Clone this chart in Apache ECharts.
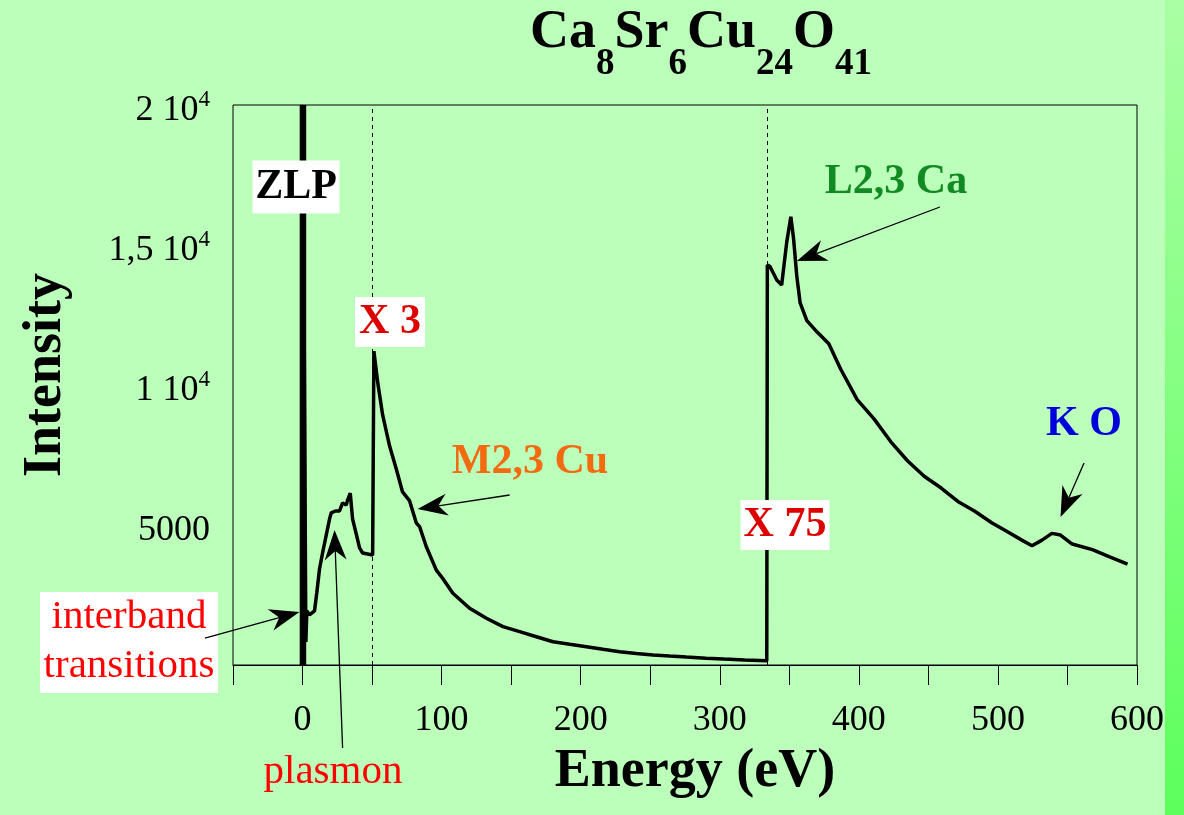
<!DOCTYPE html>
<html><head><meta charset="utf-8">
<script src="https://cdn.jsdelivr.net/npm/echarts@6/dist/echarts.min.js"></script>
<style>html,body{margin:0;padding:0;background:#bbffbb}#c{width:1184px;height:815px}</style>
</head><body><div id="c"></div>
<script>
// ---- data ----
const energy = [1.2, 2.4, 3.1, 5, 8.6, 10.3, 12.2, 14.4, 19.4, 20.6, 23.7, 26.6, 28.8, 31.4, 32.4, 34.3, 36, 38.6, 41, 43.2, 50.4,
  51.3, 54.2, 57.6, 62.6, 67.4, 71.9, 77, 81.8, 84.2, 89, 96.2, 100.7, 108.1, 120.1, 132.2, 144.1, 156.1, 168.1, 180.1, 192.1,
  204.1, 216, 228, 240, 252, 264, 276, 290, 303, 318, 333.8,
  334.2, 336.1, 341, 344.5, 348.2, 351.1, 353, 355.4, 357.8, 362.6, 370, 378.4, 386.8, 398.8, 410.9, 423, 435.1, 447.2, 459.2,
  471.2, 483.4, 495.5, 507.5, 517.2, 524.5, 531.7, 538.8, 545, 553.4, 567.9, 579.9, 593.2];
const intensity = [11700, 820, 1930, 1790, 1930, 2600, 3430, 4000, 5210, 5430, 5500, 5500, 5790, 5710, 5890, 6140, 5210, 4680, 4180, 4000, 3930,
  11210, 10040, 8930, 7820, 7000, 6180, 5860, 5070, 4940, 4225, 3390, 3100, 2560, 2025, 1670, 1370, 1190, 1010, 830, 740,
  655, 560, 475, 410, 360, 320, 285, 245, 210, 175, 150,
  14290, 14230, 13750, 13570, 15120, 16010, 15260, 13880, 12930, 12300, 11890, 11475, 10580, 9480, 8790, 7970, 7285, 6730, 6320,
  5840, 5490, 5080, 4740, 4460, 4260, 4460, 4700, 4640, 4320, 4120, 3870, 3600];
const zlpEnergy = [0.3, 0.3];
const zlpIntensity = [0, 20000];
const scaleChangeEnergies = [50.4, 333.8];
const yTickLabels = {0: '', 5000: '5000', 10000: '1 10{sup|4}', 15000: '1,5 10{sup|4}', 20000: '2 10{sup|4}'};
const xLabelValues = [0, 100, 200, 300, 400, 500, 600];
const xAxisTitle = 'Energy (eV)';
const yAxisTitle = 'Intensity';
// annotation arrows: [tailEnergy, tailIntensity, tipEnergy, tipIntensity]
const arrowInterband = [-70.2, 964, -2.2, 1893];
const arrowPlasmon = [28.8, -2964, 23, 4821];
const arrowM23Cu = [148.9, 6071, 82.7, 5571];
const arrowL23Ca = [458.3, 16357, 355.4, 14428];
const arrowKO = [561.9, 7214, 545, 5286];

const FONT = '"Liberation Serif", "DejaVu Serif", serif';
const chart = echarts.init(document.getElementById('c'));

const option = {
  backgroundColor: '#bbffbb',
  animation: false,
  grid: {left: 233, right: 47, top: 105, bottom: 150, containLabel: false, outerBoundsMode: 'none',
    show: true, borderColor: '#000', borderWidth: 1, backgroundColor: 'transparent'},
  xAxis: {
    type: 'value', min: -50, max: 600, interval: 50,
    axisLine: {show: true, onZero: false, lineStyle: {color: '#000', width: 1}},
    axisTick: {show: true, length: 20, lineStyle: {color: '#000', width: 1}},
    splitLine: {show: false},
    axisLabel: {
      margin: 38, fontFamily: FONT, fontSize: 36, color: '#000',
      formatter: v => xLabelValues.includes(v) ? String(v) : ''
    }
  },
  yAxis: {
    type: 'value', min: 0, max: 20000, interval: 5000,
    axisLine: {show: true, lineStyle: {color: '#000', width: 1}},
    axisTick: {show: false},
    splitLine: {show: false},
    axisLabel: {
      margin: 23, fontFamily: FONT, fontSize: 36, color: '#000', padding: [12, 0, 0, 0],
      formatter: v => yTickLabels[v] !== undefined ? yTickLabels[v] : '',
      rich: {sup: {fontFamily: FONT, fontSize: 23, color: '#000', verticalAlign: 'bottom', padding: [0, 0, 22, 0]}}
    }
  },
  series: [
    {
      type: 'line', name: 'spectrum', showSymbol: false, symbol: 'none', clip: true,
      lineStyle: {color: '#000', width: 3.5}, z: 3,
      data: energy.map((e, i) => [e, intensity[i]]),
      markLine: {
        silent: true, symbol: 'none', label: {show: false},
        lineStyle: {color: '#000', width: 1, type: [4, 4]},
        data: scaleChangeEnergies.map(e => ({xAxis: e}))
      }
    },
    {
      type: 'line', name: 'ZLP', showSymbol: false, symbol: 'none', clip: true,
      lineStyle: {color: '#000', width: 6.5}, z: 4,
      data: zlpEnergy.map((e, i) => [e, zlpIntensity[i]])
    }
  ]
};
chart.setOption(option);

function px(e, i) { return chart.convertToPixel({xAxisIndex: 0, yAxisIndex: 0}, [e, i]); }
function arrow(a) {
  const t = px(a[0], a[1]), h = px(a[2], a[3]);
  const dx = h[0] - t[0], dy = h[1] - t[1], len = Math.hypot(dx, dy);
  const ux = dx / len, uy = dy / len, nx = -uy, ny = ux;
  const L = 30, W = 11, N = 9;
  const notch = [h[0] - ux * (L - N), h[1] - uy * (L - N)];
  return [
    {type: 'line', z: 50, shape: {x1: t[0], y1: t[1], x2: notch[0], y2: notch[1]}, style: {stroke: '#000', lineWidth: 1.3}},
    {type: 'polygon', z: 50, shape: {points: [
      [h[0], h[1]],
      [h[0] - ux * L + nx * W, h[1] - uy * L + ny * W],
      notch,
      [h[0] - ux * L - nx * W, h[1] - uy * L - ny * W]
    ]}, style: {fill: '#000'}}
  ];
}
function boxText(text, cx, cy, w, h, color, size, weight) {
  const els = [];
  if (w) els.push({type: 'rect', z: 40, shape: {x: cx - w / 2, y: cy - h / 2, width: w, height: h}, style: {fill: '#fff'}});
  els.push({type: 'text', z: 41, style: {text: text, x: cx, y: cy, align: 'center', verticalAlign: 'middle',
    font: (weight || 'normal') + ' ' + size + 'px ' + FONT, fill: color, lineHeight: size * 1.2}});
  return els;
}

const g = [];
g.push({type: 'rect', z: -10, shape: {x: 1165, y: 0, width: 19, height: 815}, style: {fill: new echarts.graphic.LinearGradient(0, 0, 0, 1, [{offset: 0, color: '#aaffa4'}, {offset: 1, color: '#5cff5c'}])}});
// title
g.push({type: 'text', z: 41, style: {
  x: 530, y: 6, align: 'left', verticalAlign: 'top',
  text: '{m|Ca}{s|8}{m|Sr}{s|6}{m|Cu}{s|24}{m|O}{s|41}',
  rich: {
    m: {fontFamily: FONT, fontSize: 54, fontWeight: 'bold', fill: '#000', lineHeight: 54, verticalAlign: 'top'},
    s: {fontFamily: FONT, fontSize: 37, fontWeight: 'bold', fill: '#000', lineHeight: 37, verticalAlign: 'top', padding: [40, 0, 0, 0]}
  }
}});
// axis titles
g.push({type: 'text', z: 41, x: 695, y: 772, style: {text: xAxisTitle, x: 0, y: 0, align: 'center', verticalAlign: 'middle',
  font: 'bold 54px ' + FONT, fill: '#000'}});
g.push({type: 'text', z: 41, x: 46, y: 375, rotation: Math.PI / 2, style: {text: yAxisTitle, x: 0, y: 0, align: 'center', verticalAlign: 'middle',
  font: 'bold 54px ' + FONT, fill: '#000'}});
g.push(...boxText('ZLP', 296, 187, 87, 53, '#000', 42, 'bold'));
g.push(...boxText('X 3', 390, 322, 70, 50, '#dd0000', 42, 'bold'));
g.push(...boxText('X 75', 785, 525, 89, 50, '#dd0000', 42, 'bold'));
g.push(...boxText('M2,3 Cu', 530, 462, 0, 0, '#f26b10', 42, 'bold'));
g.push(...boxText('L2,3 Ca', 896, 182, 0, 0, '#118a22', 42, 'bold'));
g.push(...boxText('K O', 1084, 424, 0, 0, '#0000dd', 42, 'bold'));
g.push({type: 'rect', z: 40, shape: {x: 40, y: 592, width: 178, height: 101}, style: {fill: '#fff'}});
g.push(...boxText('interband\ntransitions', 129, 642, 0, 0, '#ff0000', 41, 'normal'));
g.push(...boxText('plasmon', 333, 772, 0, 0, '#ff0000', 41, 'normal'));
[arrowInterband, arrowPlasmon, arrowM23Cu, arrowL23Ca, arrowKO].forEach(a => g.push(...arrow(a)));
chart.setOption({graphic: g});
</script></body></html>
